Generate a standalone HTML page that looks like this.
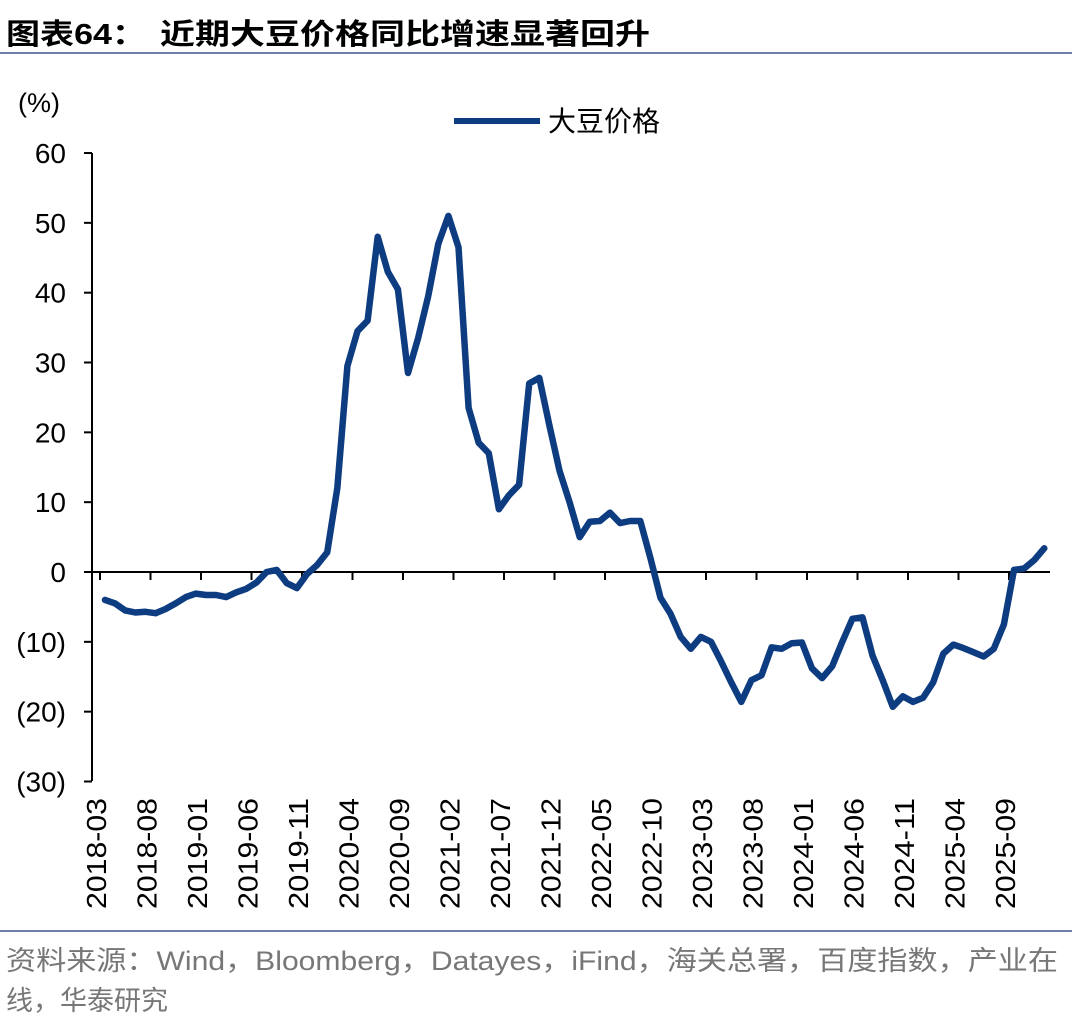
<!DOCTYPE html>
<html><head><meta charset="utf-8"><style>
body{margin:0;background:#fff;width:1080px;height:1030px;overflow:hidden;font-family:"Liberation Sans","Noto Sans CJK SC",sans-serif;}
</style></head><body>
<svg id="s" width="1080" height="1030" xmlns="http://www.w3.org/2000/svg" font-family="Liberation Sans, Noto Sans CJK SC, sans-serif">
<text x="6" y="44" font-size="29" font-weight="bold" fill="#000" textLength="140" lengthAdjust="spacingAndGlyphs">图表64：</text>
<text x="160" y="44" font-size="29" font-weight="bold" fill="#000" textLength="490" lengthAdjust="spacingAndGlyphs">近期大豆价格同比增速显著回升</text>
<line x1="0" y1="53" x2="1072" y2="53" stroke="#6f7fa8" stroke-width="2"/>
<text x="18" y="112" font-size="27" fill="#000">(%)</text>
<line x1="454" y1="121" x2="540" y2="121" stroke="#0d3c80" stroke-width="6"/>
<text x="548" y="131" font-size="28" fill="#000">大豆价格</text>
<g id="ax"></g>
<polyline id="pl" fill="none" stroke="#0d3c80" stroke-width="6.5" stroke-linejoin="round" stroke-linecap="round"/>
<line x1="0" y1="931" x2="1072" y2="931" stroke="#6f7fa8" stroke-width="2"/>
<text x="6" y="970" font-size="27" fill="#777" textLength="1052" lengthAdjust="spacingAndGlyphs">资料来源：Wind，Bloomberg，Datayes，iFind，海关总署，百度指数，产业在</text>
<text x="6" y="1010" font-size="27" fill="#777">线，华泰研究</text>
</svg>
<script>
var ns="http://www.w3.org/2000/svg",ax=document.getElementById('ax');
function Y(v){return 572-6.983*v;}
function el(t,a,txt){var e=document.createElementNS(ns,t);for(var k in a)e.setAttribute(k,a[k]);if(txt)e.textContent=txt;ax.appendChild(e);return e;}
el('line',{x1:92,y1:153,x2:92,y2:781,stroke:'#000','stroke-width':2});
for(var v=60;v>=-30;v-=10){var y=Y(v);el('line',{x1:84,y1:y,x2:92,y2:y,stroke:'#000','stroke-width':2});
el('text',{x:66,y:y+10,'font-size':28,'text-anchor':'end',fill:'#000'},v<0?'('+(-v)+')':''+v);}
el('line',{x1:92,y1:572,x2:1050,y2:572,stroke:'#000','stroke-width':2});
var labs=['2018-03','2018-08','2019-01','2019-06','2019-11','2020-04','2020-09','2021-02','2021-07','2021-12','2022-05','2022-10','2023-03','2023-08','2024-01','2024-06','2024-11','2025-04','2025-09'];
for(var i=0;i<labs.length;i++){var x=105+i*50.5;el('line',{x1:x-5,y1:572,x2:x-5,y2:580,stroke:'#000','stroke-width':2});
el('text',{x:0,y:0,'font-size':28,'text-anchor':'end',fill:'#000',textLength:111,lengthAdjust:'spacingAndGlyphs',transform:'translate('+(x+1)+',798) rotate(-90)'},labs[i]);}
var d=[-4,-4.5,-5.5,-5.8,-5.7,-5.9,-5.3,-4.5,-3.6,-3.1,-3.3,-3.3,-3.6,-2.9,-2.4,-1.5,0,0.3,-1.6,-2.3,-0.3,1,2.8,12,29.5,34.5,36,48,43,40.5,28.5,33.5,39.5,47,51,46.5,23.5,18.5,17,9,11,12.5,27,27.8,21,14.5,10,5,7.2,7.3,8.5,7,7.3,7.3,2,-3.7,-6,-9.3,-11,-9.3,-10,-12.8,-15.8,-18.6,-15.5,-14.8,-10.8,-11,-10.2,-10.1,-13.8,-15.2,-13.5,-10,-6.7,-6.5,-12,-15.5,-19.3,-17.8,-18.6,-18,-15.8,-11.7,-10.4,-10.9,-11.5,-12.1,-11,-7.5,0.3,0.5,1.7,3.4];
var p=d.map(function(v,i){return (105+i*10.1).toFixed(1)+','+Y(v).toFixed(1);}).join(' ');
document.getElementById('pl').setAttribute('points',p);
</script>
</body></html>
